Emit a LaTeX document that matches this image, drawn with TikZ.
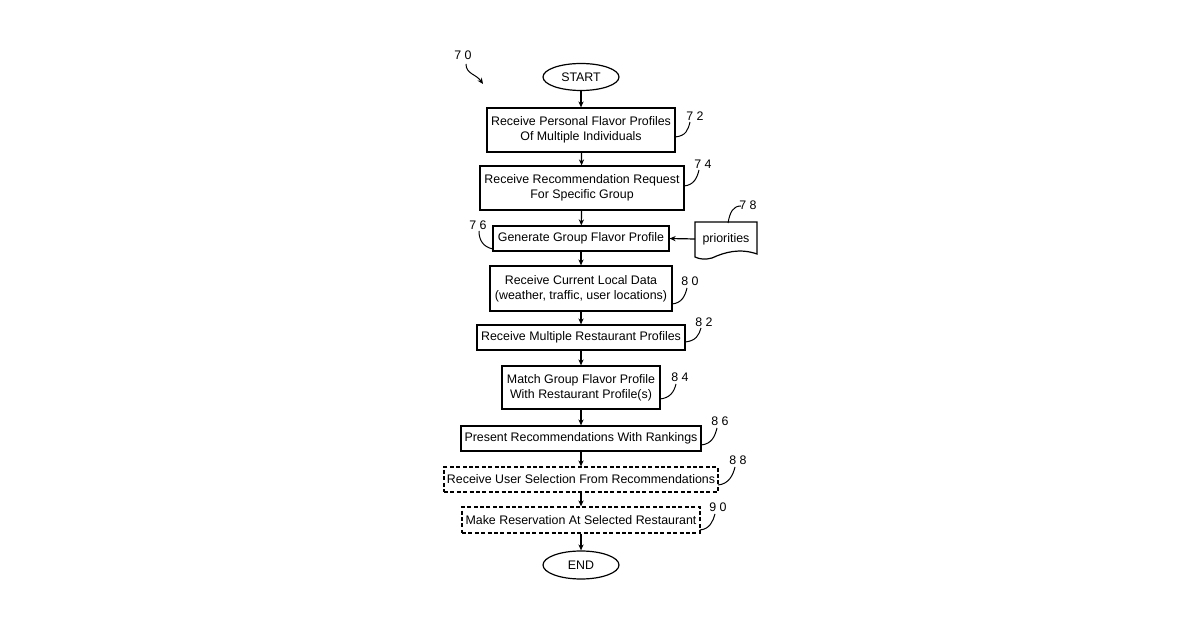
\documentclass[tikz,border=0pt]{standalone}
\usepackage{fontspec}
\setmainfont{Liberation Sans}
\usetikzlibrary{shapes.geometric,arrows.meta}
\begin{document}
\begin{tikzpicture}[x=0.5pt,y=-0.5pt,
  every node/.style={font=\fontsize{6.2}{7.4}\selectfont},
  box/.style={draw,line width=0.6pt,rectangle,align=center,inner sep=0pt},
  dbox/.style={box,dash pattern=on 2pt off 1.2pt},
  term/.style={draw,line width=0.6pt,ellipse,inner sep=0pt,minimum width=38pt,minimum height=13.5pt},
  arr/.style={-{Stealth[length=3pt,width=2.6pt]},line width=0.6pt},
  lead/.style={line width=0.5pt},
  num/.style={inner sep=0pt}]
\useasboundingbox (0,0) rectangle (1200,630);
\node[term] (start) at (581,77) {START};
\node[box,minimum width=94pt,minimum height=22pt] (b72) at (581,130) {Receive Personal Flavor Profiles\\Of Multiple Individuals};
\node[box,minimum width=102pt,minimum height=22pt] (b74) at (582,188) {Receive Recommendation Request\\For Specific Group};
\node[box,minimum width=88pt,minimum height=12.5pt] (b76) at (581,238.5) {Generate Group Flavor Profile};
\node[box,minimum width=91pt,minimum height=22.5pt] (b80) at (581,288.5) {Receive Current Local Data\\(weather, traffic, user locations)};
\node[box,minimum width=104pt,minimum height=12.5pt] (b82) at (581,337.5) {Receive Multiple Restaurant Profiles};
\node[box,minimum width=79pt,minimum height=21.5pt] (b84) at (581,387.5) {Match Group Flavor Profile\\With Restaurant Profile(s)};
\node[box,minimum width=120pt,minimum height=12.5pt] (b86) at (581,438.5) {Present Recommendations With Rankings};
\node[dbox,minimum width=137pt,minimum height=12.5pt] (b88) at (581,479.5) {Receive User Selection From Recommendations};
\node[dbox,minimum width=119pt,minimum height=13pt] (b90) at (581,520) {Make Reservation At Selected Restaurant};
\node[term,minimum height=14pt] (end) at (581,565) {END};
% priorities document
\draw[line width=0.6pt] (695,222) -- (757,222) -- (757,254) .. controls (740,248) and (725,252) .. (712,258) .. controls (705,260) and (699,259) .. (695,257) -- cycle;
\node (pri) at (726,239) {priorities};
\coordinate (prl) at (695,239);
\draw[arr] (start) -- (b72);
\draw[arr] (b72) -- (b74);
\draw[arr] (b74) -- (b76);
\draw[arr] (b76) -- (b80);
\draw[arr] (b80) -- (b82);
\draw[arr] (b82) -- (b84);
\draw[arr] (b84) -- (b86);
\draw[arr] (b86) -- (b88);
\draw[arr] (b88) -- (b90);
\draw[arr] (b90) -- (end);
\draw[arr] (prl) -- (b76.east);
% labels
\node[num] (n70) at (463,55) {7 0};
\coordinate (a70s) at (466,64); \coordinate (a70e) at (483,84);
\draw[-{Stealth[length=3pt,width=2.6pt]},lead] (a70s) .. controls (466,74) and (476,74) .. (a70e);
\node[num] (n72) at (695,116) {7 2};
\draw[lead] (675,137) .. controls (686,136) and (688,130) .. (690,122);
\node[num] (n74) at (703,164) {7 4};
\draw[lead] (684,186) .. controls (694,185) and (697,178) .. (699,170);
\node[num] (n78) at (748,205) {7 8};
\draw[lead] (728,223) .. controls (730,212) and (733,206) .. (741,206);
\node[num] (n76) at (478,225) {7 6};
\draw[lead] (493,249) .. controls (483,247) and (479,240) .. (479,231);
\node[num] (n80) at (690,281) {8 0};
\draw[lead] (672,304) .. controls (682,303) and (685,296) .. (687,288);
\node[num] (n82) at (704,322) {8 2};
\draw[lead] (685,342) .. controls (696,341) and (699,335) .. (701,328);
\node[num] (n84) at (680,377) {8 4};
\draw[lead] (660,399) .. controls (670,398) and (674,392) .. (676,384);
\node[num] (n86) at (720,421) {8 6};
\draw[lead] (701,445) .. controls (712,444) and (715,436) .. (717,428);
\node[num] (n88) at (738,460) {8 8};
\draw[lead] (718,485) .. controls (729,484) and (733,475) .. (735,467);
\node[num] (n90) at (718,507) {9 0};
\draw[lead] (700,530) .. controls (710,529) and (713,521) .. (715,514);
\end{tikzpicture}
\end{document}
